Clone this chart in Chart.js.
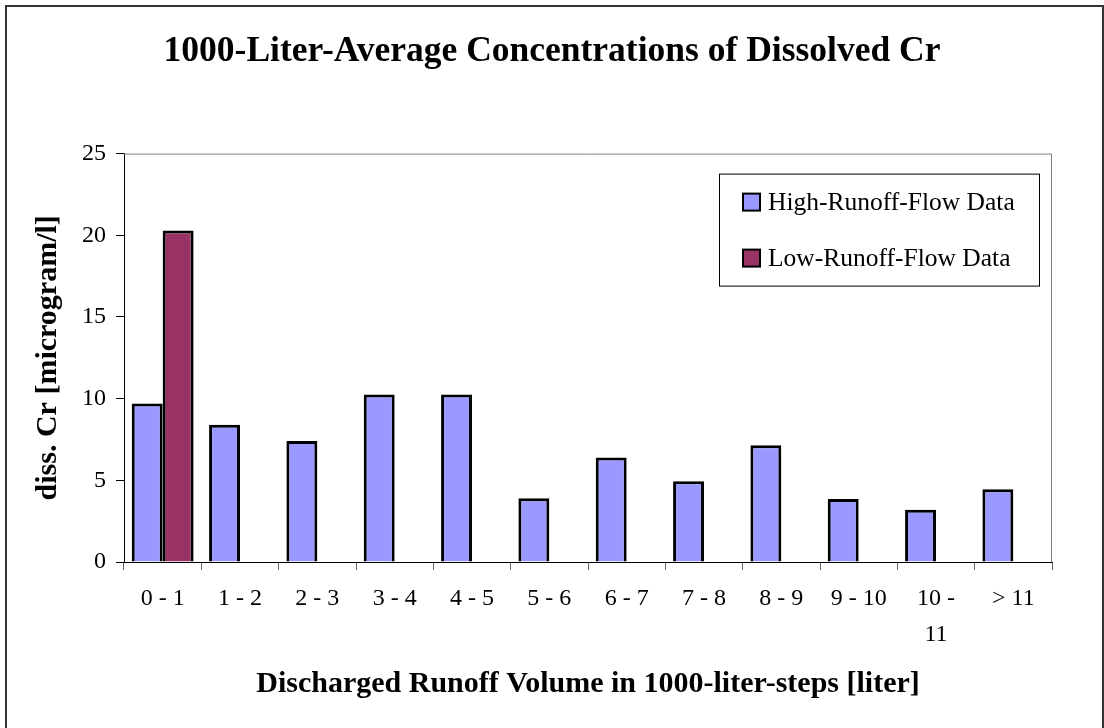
<!DOCTYPE html>
<html>
<head>
<meta charset="utf-8">
<title>Dissolved Cr</title>
<script src="https://cdn.jsdelivr.net/npm/chart.js@4"></script>
<style>
  html, body { margin: 0; padding: 0; background: #fff; }
</style>
</head>
<body>
<canvas id="cr-chart" width="1104" height="728"></canvas>
<script>
const categories = ['0 - 1', '1 - 2', '2 - 3', '3 - 4', '4 - 5', '5 - 6', '6 - 7', '7 - 8', '8 - 9', '9 - 10', ['10 -', '11'], '> 11'];
const highFlow = [9.7, 8.4, 7.4, 10.25, 10.25, 3.9, 6.4, 4.95, 7.15, 3.85, 3.2, 4.45];
const lowFlow = [20.3, null, null, null, null, null, null, null, null, null, null, null];
const yTicks = [0, 5, 10, 15, 20, 25];

const serif = "'Liberation Serif', 'Times New Roman', serif";

// white page + outer frame of the chart object
const frame = {
  id: 'frame',
  beforeDraw(chart) {
    const ctx = chart.ctx;
    ctx.save();
    ctx.fillStyle = '#fff';
    ctx.fillRect(0, 0, chart.width, chart.height);
    ctx.strokeStyle = '#333';
    ctx.lineWidth = 2;
    ctx.strokeRect(6, 6, 1097, 740);
    ctx.restore();
  },
  afterDatasetsDraw(chart) {
    // gray plot-area border on top and right side
    const {ctx, chartArea: a} = chart;
    ctx.save();
    ctx.strokeStyle = '#808080';
    ctx.lineWidth = 1;
    ctx.beginPath();
    ctx.moveTo(a.left, a.top + 0.5);
    ctx.lineTo(a.right - 0.5, a.top + 0.5);
    ctx.lineTo(a.right - 0.5, a.bottom);
    ctx.stroke();
    ctx.restore();
  }
};

// legend box inside the plot area, Excel style
const legendBox = {
  id: 'legendBox',
  afterDraw(chart) {
    const {ctx, chartArea: a} = chart;
    const w = 320, h = 112;
    const x0 = a.right - 13 - w, y0 = a.top + 20;
    ctx.save();
    ctx.fillStyle = '#fff';
    ctx.fillRect(x0, y0, w, h);
    ctx.strokeStyle = '#000';
    ctx.lineWidth = 1;
    ctx.strokeRect(x0 + 0.5, y0 + 0.5, w, h);
    chart.data.datasets.forEach((ds, i) => {
      const cy = y0 + 28.5 + i * 56;
      ctx.fillStyle = ds.backgroundColor;
      ctx.fillRect(x0 + 24, cy - 8.5, 17, 17);
      ctx.strokeStyle = '#000';
      ctx.lineWidth = 2;
      ctx.strokeRect(x0 + 24, cy - 8.5, 17, 17);
      ctx.fillStyle = '#000';
      ctx.font = '25.5px ' + serif;
      ctx.textBaseline = 'middle';
      ctx.textAlign = 'left';
      ctx.fillText(ds.label, x0 + 49, cy + 1);
    });
    ctx.restore();
  }
};

const data = {
  labels: categories,
  datasets: [{
    label: 'High-Runoff-Flow Data',
    data: highFlow,
    backgroundColor: '#9999FF',
    borderColor: '#000',
    borderWidth: 3,
    categoryPercentage: 0.8,
    barPercentage: 1.0
  }, {
    label: 'Low-Runoff-Flow Data',
    data: lowFlow,
    backgroundColor: '#993366',
    borderColor: '#000',
    borderWidth: 3,
    categoryPercentage: 0.8,
    barPercentage: 1.0
  }]
};

const config = {
  type: 'bar',
  data: data,
  options: {
    responsive: false,
    animation: false,
    layout: {
      padding: { left: 6, right: 6, top: 6, bottom: 6 }
    },
    plugins: {
      legend: { display: false },
      tooltip: { enabled: false },
      title: {
        display: true,
        text: '1000-Liter-Average Concentrations of Dissolved Cr',
        color: '#000',
        font: { family: serif, size: 35.5, weight: 'bold' },
        padding: { top: 25, bottom: 80 },
        lineHeight: 1.2
      }
    },
    scales: {
      x: {
        offset: true,
        grid: { offset: true, drawOnChartArea: false, drawTicks: true, tickLength: 8, color: '#666' },
        border: { display: true, color: '#000', width: 1 },
        ticks: {
          color: '#000',
          font: { family: serif, size: 24, lineHeight: 1.5 },
          padding: 11,
          maxRotation: 0,
          autoSkip: false
        },
        title: {
          display: true,
          text: 'Discharged Runoff Volume in 1000-liter-steps [liter]',
          color: '#000',
          font: { family: serif, size: 30, weight: 'bold' },
          padding: { top: 0, bottom: 20 }
        },
        afterFit: s => { s.height = 160; }
      },
      y: {
        min: 0,
        max: 25,
        afterBuildTicks: s => { s.ticks = yTicks.map(v => ({ value: v })); },
        grid: { drawOnChartArea: false, drawTicks: true, tickLength: 8, color: '#000' },
        border: { display: true, color: '#000', width: 1 },
        ticks: {
          color: '#000',
          font: { family: serif, size: 24 },
          padding: 10
        },
        title: {
          display: true,
          text: 'diss. Cr [microgram/l]',
          color: '#000',
          font: { family: serif, size: 30, weight: 'bold' },
          padding: { top: 24, bottom: 0 }
        },
        afterFit: s => { s.width = 118; }
      },
      // empty right margin so the title centres on the whole page
      yRight: {
        position: 'right',
        display: true,
        grid: { display: false },
        border: { display: false },
        ticks: { display: false },
        afterFit: s => { s.width = 46; }
      }
    }
  },
  plugins: [frame, legendBox]
};

const crChart = new Chart(document.getElementById('cr-chart'), config);
</script>
</body>
</html>
